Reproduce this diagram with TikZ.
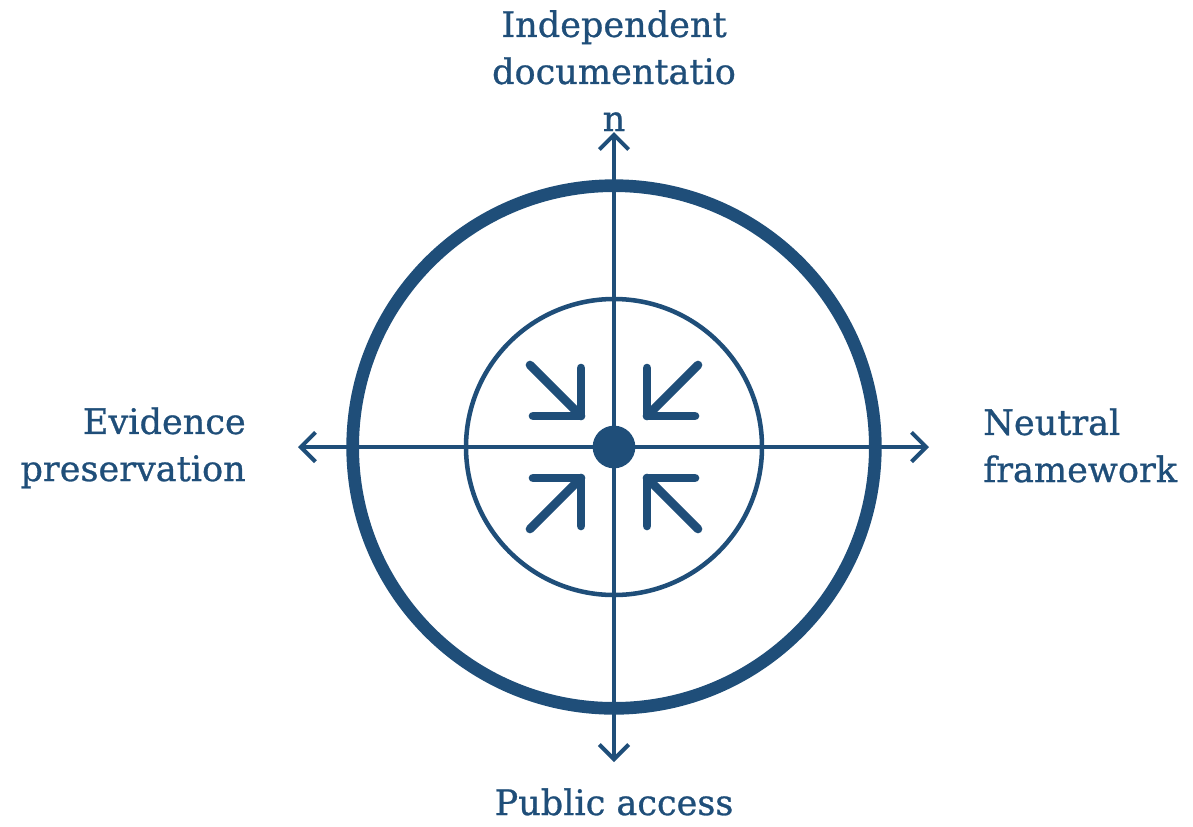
\documentclass[tikz,border=0pt]{standalone}
\usepackage{fontspec}
\setmainfont[FakeBold=0.8]{DejaVu Serif}
\usetikzlibrary{arrows.meta,positioning}
\definecolor{navy}{RGB}{31,78,121}
\tikzset{axis/.style={ % Sets the properties for the four axes
           draw=navy,
           line width=3pt,
           {Straight Barb[length=11pt,width=22pt,line width=3pt]}-{Straight Barb[length=11pt,width=22pt,line width=3pt]}},
         ring/.style={draw=navy, fill=none},
         inarrow/.style={ % Inward arrows round the hub
           draw=navy,
           line width=6.5pt,
           line cap=round,
           line join=round},
         caption/.style={text=navy, inner sep=0pt,
           font=\fontsize{26.3}{35.3}\selectfont}}

\begin{document}
\begin{tikzpicture}[x=0.75pt,y=-0.75pt]
\useasboundingbox (0,0) rectangle (1193,826);

\coordinate (c) at (614,447);
\coordinate (n) at (614,132);
\coordinate (s) at (614,762);
\coordinate (w) at (298,447);
\coordinate (e) at (929,447);

\draw[ring, line width=9.5pt] (c) circle (196pt);
\draw[ring, line width=3.4pt] (c) circle (111pt);

\draw[axis] (n) -- (s);
\draw[axis] (w) -- (e);

\node[circle, fill=navy, minimum size=32pt, inner sep=0pt] (hub) at (c) {};

\draw[inarrow] (530,365) -- (581,416);
\draw[inarrow] (581,368) -- (581,416) -- (533,416);
\draw[inarrow] (698,365) -- (647,416);
\draw[inarrow] (647,368) -- (647,416) -- (695,416);
\draw[inarrow] (530,529) -- (581,478);
\draw[inarrow] (581,526) -- (581,478) -- (533,478);
\draw[inarrow] (698,529) -- (647,478);
\draw[inarrow] (647,526) -- (647,478) -- (695,478);

% base anchor of a multi-line node sits on its last line
\node[caption, align=center, anchor=base] (doc) at (614,131) {Independent\\documentatio\\n};
\node[caption, align=right, anchor=base east] (evid) at (246,481) {Evidence\\preservation};
\node[caption, align=left, anchor=base west] (neut) at (983,482) {Neutral\\framework};
\node[caption, anchor=base] (pub) at (614,815) {Public access};

\end{tikzpicture}
\end{document}
